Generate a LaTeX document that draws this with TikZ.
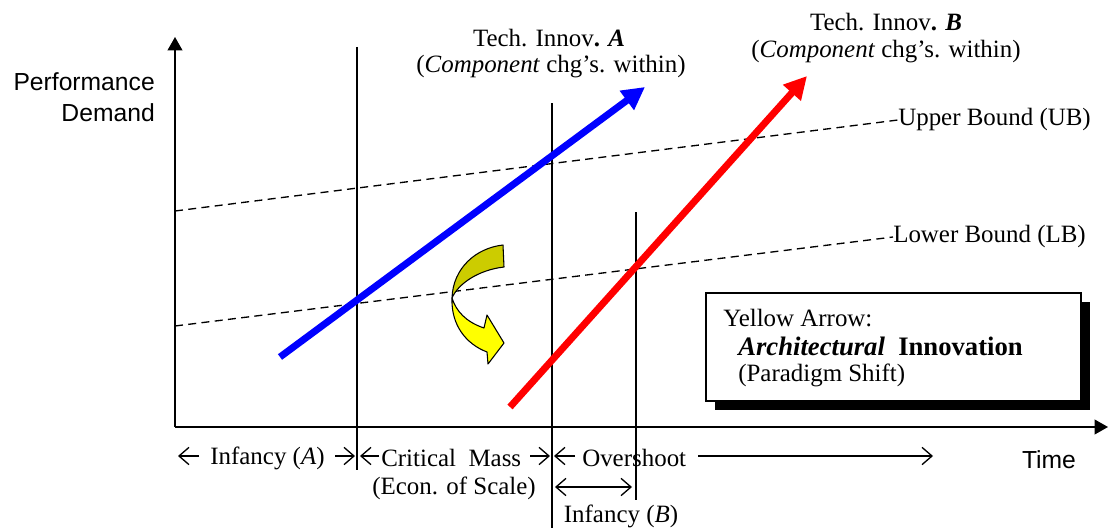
\documentclass[tikz,border=0pt]{standalone}
\usepackage{fontspec}
\setmainfont{Liberation Serif}
\setsansfont{Liberation Sans}
\usetikzlibrary{arrows.meta}
\definecolor{techblue}{RGB}{0,0,255}
\definecolor{techred}{RGB}{255,0,0}
\definecolor{yarrow}{RGB}{255,255,0}
\definecolor{yback}{RGB}{204,204,0}
\begin{document}
\begin{tikzpicture}[x=0.75pt,y=-0.75pt,
  every node/.style={inner sep=0pt, font=\fontsize{18.7}{22}\selectfont},
  sanslabel/.style={font=\sffamily\fontsize{18.5}{23}\selectfont},
  axisline/.style={line width=1.3pt, -{Triangle[length=10pt,width=11pt]}},
  vline/.style={line width=1.3pt},
  bound/.style={line width=1pt, dash pattern=on 6pt off 4pt},
  techarrow/.style={line width=5.2pt, -{Triangle[length=17pt,width=17pt]}},
  barb/.style={line width=1pt, -{Straight Barb[length=7.5pt,width=13pt]}},
  dbarb/.style={line width=1pt, {Straight Barb[length=7.5pt,width=13pt]}-{Straight Barb[length=7.5pt,width=13pt]}},
  ribbon/.style={draw=black, line width=0.8pt, line join=round}
]
\useasboundingbox (0,0) rectangle (1109,528);

% axes
\coordinate (O) at (175,427);
\coordinate (Ytop) at (175,37);
\coordinate (Xend) at (1108,427);
\draw[axisline] (O) -- (Ytop);
\draw[axisline] (O) -- (Xend);
\node[sanslabel, align=right, anchor=east] (pd) at (155,97) {Performance\\Demand};
\node[sanslabel] (time) at (1049,460) {Time};

% vertical phase lines
\coordinate (v1t) at (357,47);  \coordinate (v1b) at (357,470);
\coordinate (v2t) at (552,103); \coordinate (v2b) at (552,528);
\coordinate (v3t) at (636,212); \coordinate (v3b) at (636,500);
\draw[vline] (v1t) -- (v1b);
\draw[vline] (v2t) -- (v2b);
\draw[vline] (v3t) -- (v3b);

% bounds
\coordinate (ubs) at (175,211);
\coordinate (lbs) at (175,326);
\node[anchor=west] (ub) at (898,120) {Upper Bound (UB)};
\node[anchor=west] (lb) at (893,237) {Lower Bound (LB)};
\draw[bound] (ubs) -- (ub.west);
\draw[bound] (lbs) -- (lb.west);

% technology arrows
\coordinate (as) at (280,357); \coordinate (ae) at (645,87);
\coordinate (bs) at (510,407); \coordinate (be) at (807,76);
\draw[techarrow, color=techblue] (as) -- (ae);
\draw[techarrow, color=techred] (bs) -- (be);
\node (ta) at (549,38) {Tech. Innov\textbf{.} \textbf{\textit{A}}};
\node (tac) at (551,67) {(\textit{Component} chg’s. within)};
\node (tb) at (886,22) {Tech. Innov\textbf{.} \textbf{\textit{B}}};
\node (tbc) at (886,52) {(\textit{Component} chg’s. within)};

% yellow curved arrow
\fill[yback, ribbon] (503,245) .. controls (476,248) and (453,268) .. (452,298)
  .. controls (458,284) and (478,270) .. (504,267) -- cycle;
\fill[yarrow, ribbon] (452,298) .. controls (456,311) and (466,322) .. (484,328)
  -- (487,315) -- (504,343) -- (488,364) -- (487,352)
  .. controls (466,344) and (451,325) .. (452,298) -- cycle;

% legend box
\fill (715,302) rectangle (1090,410);
\node[draw, line width=1.3pt, fill=white, minimum width=375pt*0.75, minimum height=108pt*0.75, anchor=north west] (box) at (705,292) {};
\node[anchor=west] (l1) at (723,318) {Yellow Arrow:};
\node[anchor=west, font=\fontsize{20}{24}\selectfont] (l2) at (738,346) {\textbf{\textit{Architectural}}\ \ \textbf{Innovation}};
\node[anchor=west] (l3) at (738,375) {(Paradigm Shift)};

% phase labels
\node (inA) at (267.5,458) {Infancy (\textit{A})};
\coordinate (ia1) at (199,456); \coordinate (ia2) at (178,456);
\coordinate (ia3) at (335,456); \coordinate (ia4) at (355,456);
\draw[barb] (ia1) -- (ia2);
\draw[barb] (ia3) -- (ia4);

\node[anchor=west] (cm) at (381,458) {Critical\ \ Mass};
\coordinate (cm1) at (379,456); \coordinate (cm2) at (360,456);
\coordinate (cm3) at (530,456); \coordinate (cm4) at (550,456);
\draw[barb] (cm1) -- (cm2);
\draw[barb] (cm3) -- (cm4);
\node (econ) at (454,488) {(Econ. of Scale)};

\node[anchor=west] (os) at (582,458) {Overshoot};
\coordinate (os1) at (575,456); \coordinate (os2) at (554,456);
\coordinate (os3) at (698,456); \coordinate (os4) at (933,456);
\draw[barb] (os1) -- (os2);
\draw[barb] (os3) -- (os4);

\coordinate (ib1) at (555,487); \coordinate (ib2) at (632,487);
\draw[dbarb] (ib1) -- (ib2);
\node (inB) at (621,516) {Infancy (\textit{B})};
\end{tikzpicture}
\end{document}
